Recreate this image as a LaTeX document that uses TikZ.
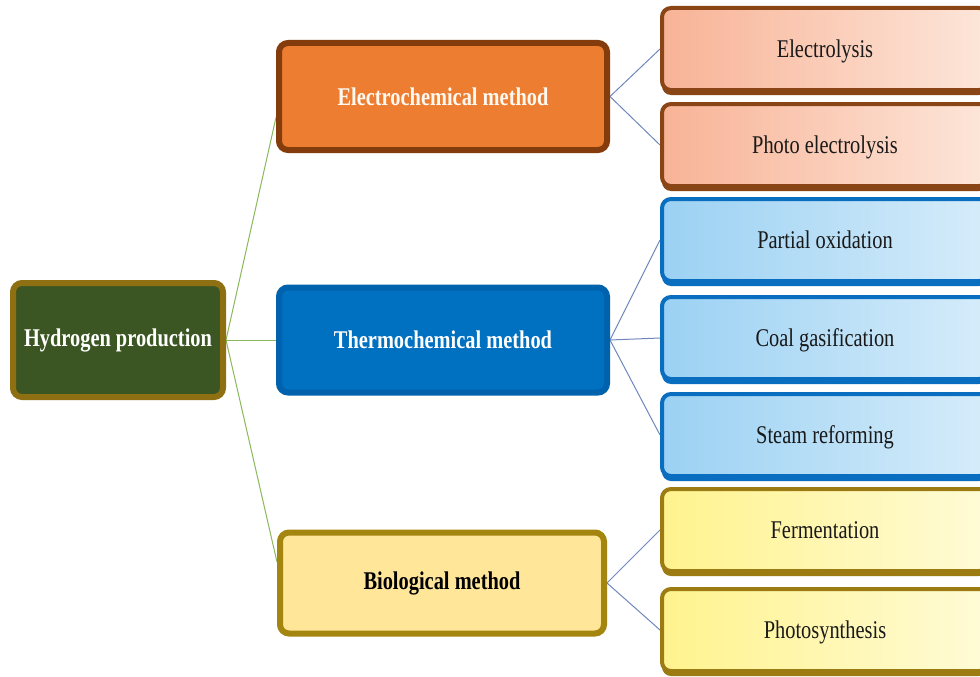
\documentclass[tikz,border=0pt]{standalone}
\usepackage{fontspec}
\setmainfont[FakeStretch=0.8]{Liberation Serif}
\usetikzlibrary{shadows,backgrounds}
\definecolor{hgfill}{HTML}{3B5623}
\definecolor{hgborder}{HTML}{8E6F12}
\definecolor{ecfill}{HTML}{ED7D31}
\definecolor{ecborder}{HTML}{843C0C}
\definecolor{tcfill}{HTML}{0070C0}
\definecolor{tcborder}{HTML}{0062AC}
\definecolor{bifill}{HTML}{FFE699}
\definecolor{biborder}{HTML}{A3850F}
\definecolor{lorL}{HTML}{F8B396}
\definecolor{lorR}{HTML}{FDE6DA}
\definecolor{lorB}{HTML}{8A4517}
\definecolor{lblL}{HTML}{9BD1F3}
\definecolor{lblR}{HTML}{D6ECFA}
\definecolor{lblB}{HTML}{0A6EC0}
\definecolor{lyeL}{HTML}{FFF38E}
\definecolor{lyeR}{HTML}{FFFBD6}
\definecolor{lyeB}{HTML}{9C7C12}
\definecolor{greenline}{HTML}{8CB85C}
\definecolor{blueline}{HTML}{6F87BD}
\begin{document}
\begin{tikzpicture}[x=1pt,y=-1pt,
  box/.style={rounded corners=9pt, align=center, inner sep=0pt,
    font=\fontsize{25.5}{30}\selectfont},
  mainbox/.style={box, font=\fontsize{25.5}{30}\selectfont\bfseries, line width=6pt},
  leafbox/.style={box, minimum width=326, minimum height=82, line width=4pt,
    text=black!90, text depth=-3pt},
  orleaf/.style={leafbox, draw=lorB, left color=lorL, right color=lorR,
    drop shadow={shadow xshift=0pt, shadow yshift=-5pt, fill=lorB, opacity=1}},
  blleaf/.style={leafbox, draw=lblB, left color=lblL, right color=lblR,
    drop shadow={shadow xshift=0pt, shadow yshift=-5pt, fill=lblB, opacity=1}},
  yeleaf/.style={leafbox, draw=lyeB, left color=lyeL, right color=lyeR,
    drop shadow={shadow xshift=0pt, shadow yshift=-5pt, fill=lyeB, opacity=1}},
  gline/.style={draw=greenline, line width=1pt},
  bline/.style={draw=blueline, line width=1pt}
]
\useasboundingbox (0,0) rectangle (980,677);
\clip (0,0) rectangle (980,677);

% main boxes
\node[mainbox, draw=hgborder, fill=hgfill, text=white,
  minimum width=210, minimum height=114] (hp) at (118,340) {Hydrogen production};
\node[mainbox, draw=ecborder, fill=ecfill, text=white!95!orange,
  minimum width=328, minimum height=107] (ec) at (443,96.5) {Electrochemical method};
\node[mainbox, draw=tcborder, fill=tcfill, text=white,
  minimum width=328, minimum height=105] (tc) at (443,340) {Thermochemical method};
\node[mainbox, draw=biborder, fill=bifill, text=black,
  minimum width=324, minimum height=101] (bi) at (442,583) {Biological method};

% leaves
\node[orleaf] (l1) at (825,49) {Electrolysis};
\node[orleaf] (l2) at (825,145) {Photo electrolysis};
\node[blleaf] (l3) at (825,240) {Partial oxidation};
\node[blleaf] (l4) at (825,338) {Coal gasification};
\node[blleaf] (l5) at (825,435) {Steam reforming};
\node[yeleaf] (l6) at (825,530) {Fermentation};
\node[yeleaf] (l7) at (825,630) {Photosynthesis};

\coordinate (ecin) at ([yshift=-21pt]ec.west);
\coordinate (biin) at ([yshift=21pt]bi.west);

\begin{pgfonlayer}{background}
\fill[white] (0,0) rectangle (980,677);
\draw[gline] (hp.east) -- (ecin);
\draw[gline] (hp.east) -- (tc.west);
\draw[gline] (hp.east) -- (biin);
\draw[bline] (ec.east) -- (l1.west);
\draw[bline] (ec.east) -- (l2.west);
\draw[bline] (tc.east) -- (l3.west);
\draw[bline] (tc.east) -- (l4.west);
\draw[bline] (tc.east) -- (l5.west);
\draw[bline] (bi.east) -- (l6.west);
\draw[bline] (bi.east) -- (l7.west);
\end{pgfonlayer}
\end{tikzpicture}
\end{document}
